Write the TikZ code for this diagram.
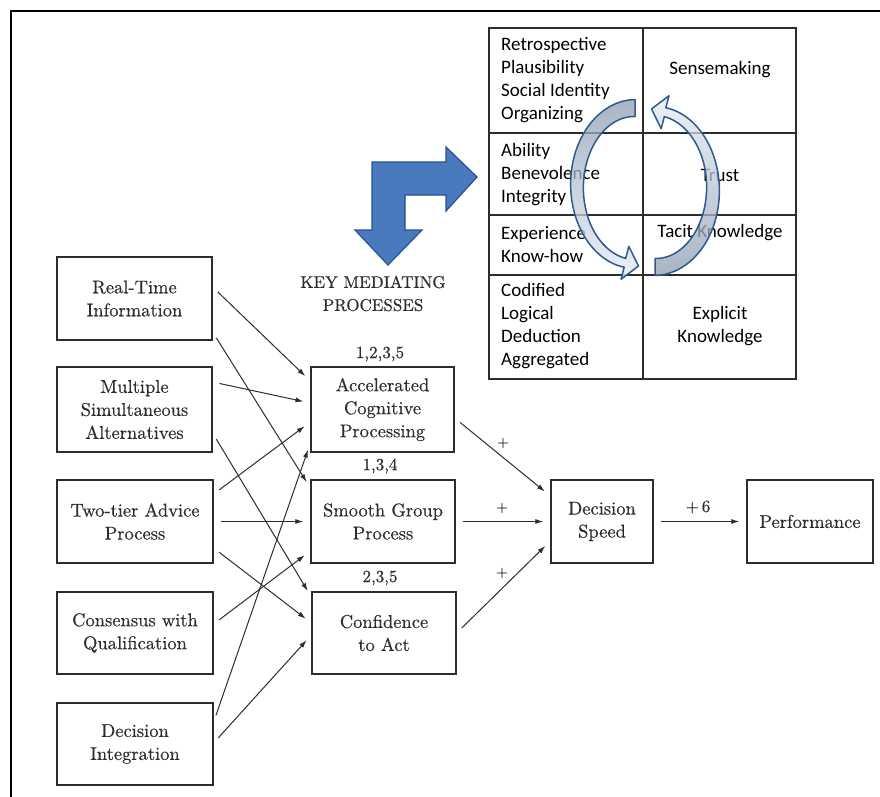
\documentclass[tikz,border=0pt]{standalone}
\usepackage{fontspec}
\newfontfamily\tabfont{Carlito}
\newfontfamily\flowfont{lmroman10-regular}[Extension=.otf, FakeBold=0.4]
\usetikzlibrary{arrows.meta,calc}
\definecolor{ink}{RGB}{45,45,45}
\definecolor{bluefill}{RGB}{74,122,190}
\definecolor{blueline}{RGB}{40,80,140}
\definecolor{arcline}{RGB}{46,90,142}
\definecolor{arcdark}{RGB}{140,155,178}
\definecolor{arclight}{RGB}{228,236,246}
\begin{document}
\begin{tikzpicture}[x=1pt,y=-1pt,
  box/.style={draw=ink, line width=1.3pt, inner sep=0pt, align=center, text=ink, font=\flowfont\fontsize{18.5}{23}\selectfont},
  lab/.style={inner sep=0pt, text=ink, font=\flowfont\fontsize{17}{20}\selectfont},
  conn/.style={draw=ink, line width=1pt, -{Latex[length=8pt,width=5pt]}, shorten <=7pt, shorten >=7pt},
  tabline/.style={draw=ink, line width=1.5pt},
  cell/.style={inner sep=0pt, font=\tabfont\fontsize{19}{23}\selectfont, align=left, anchor=west},
  cellc/.style={inner sep=0pt, font=\tabfont\fontsize{19}{23}\selectfont, align=center},
  bigarrow/.style={fill=bluefill, draw=blueline, line width=1.2pt, line join=miter},
  arcarrow/.style={fill opacity=0.75, draw=arcline, line width=1.5pt, line join=round}
]
\useasboundingbox (0,0) rectangle (880,797);
% outer frame
\draw[line width=2pt, black] (11,797) -- (11,11) -- (880,11);

% left boxes
\node[box, minimum width=155pt, minimum height=83pt] (rt) at (134.5,298.5) {Real-Time\\Information};
\node[box, minimum width=155pt, minimum height=85pt] (ms) at (134.5,409.5) {Multiple\\Simultaneous\\Alternatives};
\node[box, minimum width=156pt, minimum height=83pt] (tt) at (135,521.5) {Two-tier Advice\\Process};
\node[box, minimum width=156pt, minimum height=82pt] (cq) at (135,633) {Consensus with\\Qualification};
\node[box, minimum width=156pt, minimum height=82pt] (di) at (135,744) {Decision\\Integration};

% mediating boxes
\node[box, minimum width=143pt, minimum height=85pt] (acp) at (382.5,409.5) {Accelerated\\Cognitive\\Processing};
\node[box, minimum width=144pt, minimum height=83pt] (sgp) at (383,521.5) {Smooth Group\\Process};
\node[box, minimum width=144pt, minimum height=82pt] (cta) at (384,633) {Confidence\\to Act};

\node[box, minimum width=102pt, minimum height=83pt] (ds) at (602,521.5) {Decision\\Speed};
\node[box, minimum width=126pt, minimum height=83pt] (pf) at (810,521.5) {Performance};

% labels
\node[lab, align=center, font=\flowfont\fontsize{17}{23}\selectfont] (kmp) at (373,293.5) {KEY MEDIATING\\PROCESSES};
\node[lab] (l1) at (380,354) {1,2,3,5};
\node[lab] (l2) at (380,466) {1,3,4};
\node[lab] (l3) at (380,578) {2,3,5};
\node[lab, font=\flowfont\fontsize{15}{18}\selectfont] (p1) at (503,443) {+};
\node[lab, font=\flowfont\fontsize{15}{18}\selectfont] (p2) at (502,508) {+};
\node[lab, font=\flowfont\fontsize{15}{18}\selectfont] (p3) at (502,573) {+};
\node[lab] (p6) at (698,507) {+\,6};

% connectors left -> mediating
\draw[conn] ([yshift=11.5pt]rt.east) -- ([yshift=28.5pt]acp.west);
\draw[conn] ([yshift=-33.5pt]rt.east) -- ([yshift=33.5pt]sgp.west);
\draw[conn] ([yshift=27.5pt]ms.east) -- ([yshift=6.5pt]acp.west);
\draw[conn] ([yshift=-23.5pt]ms.east) -- ([yshift=36pt]cta.west);
\draw[conn] ([yshift=27.5pt]tt.east) -- ([yshift=-12.5pt]acp.west);
\draw[conn] (tt.east) -- (sgp.west);
\draw[conn] ([yshift=-26.5pt]tt.east) -- ([yshift=10pt]cta.west);
\draw[conn] ([yshift=9pt]cq.east) -- ([yshift=-29.5pt]sgp.west);
\draw[conn] ([yshift=22pt]di.east) -- ([yshift=-33.5pt]acp.west);
\draw[conn] ([yshift=1pt]di.east) -- ([yshift=-2pt]cta.west);

% mediating -> decision speed
\draw[conn] ([yshift=-8.5pt]acp.east) -- ([yshift=25.5pt]ds.west);
\draw[conn] (sgp.east) -- (ds.west);
\draw[conn] (cta.east) -- ([yshift=-19.5pt]ds.west);
\draw[conn] (ds.east) -- (pf.west);

% table
\draw[tabline] (489,28) rectangle (796,379);
\draw[tabline] (643,28) -- (643,379);
\draw[tabline] (489,133) -- (796,133);
\draw[tabline] (489,215) -- (796,215);
\draw[tabline] (489,275) -- (796,275);

\node[cell] (c11) at (501,80) {Retrospective\\Plausibility\\Social Identity\\Organizing};
\node[cell] (c21) at (501,175) {Ability\\Benevolence\\Integrity};
\node[cell] (c31) at (501,244.5) {Experience\\Know-how};
\node[cell] (c41) at (501,326.5) {Codified\\Logical\\Deduction\\Aggregated};
\node[cellc] (c12) at (720,70) {Sensemaking};
\node[cellc] (c22) at (720,175) {Trust};
\node[cellc] (c32) at (720,233) {Tacit Knowledge};
\node[cellc] (c42) at (720,326.5) {Explicit\\Knowledge};

% big bent blue arrow
\draw[bigarrow] (372,162) -- (446,162) -- (446,147) -- (477,177) -- (446,211) -- (446,195) -- (405,195) -- (405,230) -- (422,230) -- (388,265) -- (355,230) -- (372,230) -- cycle;

% circular arrows
\shadedraw[arcarrow, top color=arcdark, bottom color=arclight] plot[domain=270:100,samples=50] ({635+(62.5+4*(\x-100)/170)*cos(\x)},{186+(82.5+4*(\x-100)/170)*sin(\x)}) -- (621,279.3) -- (638.5,266) -- (628.8,246.3) -- plot[domain=100:270,samples=50] ({635+(53.5-4*(\x-100)/170)*cos(\x)},{186+(73.5-4*(\x-100)/170)*sin(\x)}) -- cycle;
\begin{scope}[rotate around={180:(645,187.5)}]
\shadedraw[arcarrow, top color=arclight, bottom color=arcdark] plot[domain=270:100,samples=50] ({635+(62.5+4*(\x-100)/170)*cos(\x)},{186+(82.5+4*(\x-100)/170)*sin(\x)}) -- (621,279.3) -- (638.5,266) -- (628.8,246.3) -- plot[domain=100:270,samples=50] ({635+(53.5-4*(\x-100)/170)*cos(\x)},{186+(73.5-4*(\x-100)/170)*sin(\x)}) -- cycle;
\end{scope}
\end{tikzpicture}
\end{document}
